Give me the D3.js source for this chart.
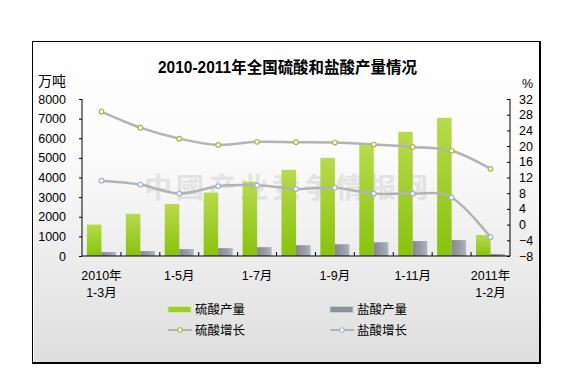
<!DOCTYPE html>
<html><head><meta charset="utf-8">
<script src="https://cdn.jsdelivr.net/npm/d3@7/dist/d3.min.js"></script>
<style>
html,body{margin:0;padding:0;background:#fff;}
svg{display:block;}
text{font-family:"Liberation Sans","Noto Sans CJK SC",sans-serif;fill:#000;}
</style></head>
<body>
<svg id="chart" width="573" height="380"></svg>
<script>
// ---- data ----
const categories = ["2010年1-3月","1-4月","1-5月","1-6月","1-7月","1-8月","1-9月","1-10月","1-11月","1-12月","2011年1-2月"];
const xTickLabels = [["2010年","1-3月"],null,["1-5月"],null,["1-7月"],null,["1-9月"],null,["1-11月"],null,["2011年","1-2月"]];
const sulfuricOutput = [1600, 2150, 2650, 3230, 3780, 4390, 5000, 5660, 6330, 7040, 1070];
const hydroOutput = [200, 250, 350, 400, 450, 550, 600, 700, 760, 810, 100];
const sulfuricGrowth = [28.8, 24.7, 21.9, 20.3, 21.1, 21.0, 20.9, 20.4, 19.8, 18.8, 14.2];
const hydroGrowth = [11.2, 10.2, 7.9, 9.8, 10.0, 9.1, 9.4, 7.9, 7.9, 6.9, -3.2];
const leftTicks = [0,1000,2000,3000,4000,5000,6000,7000,8000];
const rightTicks = [-8,-4,0,4,8,12,16,20,24,28,32];
const seriesNames = ["硫酸产量","盐酸产量","硫酸增长","盐酸增长"];
const title = "2010-2011年全国硫酸和盐酸产量情况";

(function(){
const svg = d3.select("#chart");
const defs = svg.append("defs");

const bg = defs.append("linearGradient").attr("id","bg").attr("x1",0).attr("y1",0).attr("x2",0).attr("y2",1);
bg.append("stop").attr("offset","0%").attr("stop-color","#ffffff");
bg.append("stop").attr("offset","35%").attr("stop-color","#fbfbfb");
bg.append("stop").attr("offset","100%").attr("stop-color","#dedede");

const gG = defs.append("linearGradient").attr("id","gGreen").attr("x1",0).attr("y1",0).attr("x2",0).attr("y2",1);
gG.append("stop").attr("offset","0%").attr("stop-color","#b8da4c");
gG.append("stop").attr("offset","100%").attr("stop-color","#88c20e");

const gY = defs.append("linearGradient").attr("id","gGray").attr("x1",0).attr("y1",0).attr("x2",1).attr("y2",0);
gY.append("stop").attr("offset","0%").attr("stop-color","#86888c");
gY.append("stop").attr("offset","60%").attr("stop-color","#9a9ea4");
gY.append("stop").attr("offset","100%").attr("stop-color","#aab6c4");

// frame
svg.append("rect").attr("x",34).attr("y",42).attr("width",506).attr("height",321)
  .attr("fill","url(#bg)");
svg.append("path").attr("d","M32.5,363 V41.5 H540").attr("fill","none").attr("stroke","#000").attr("stroke-width",1);
svg.append("path").attr("d","M540,41 V363 H32").attr("fill","none").attr("stroke","#000").attr("stroke-width",2);

// title
svg.append("text").attr("x",287.5).attr("y",73).attr("text-anchor","middle")
  .attr("textLength",259).attr("lengthAdjust","spacingAndGlyphs")
  .style("font-size","16px").style("font-weight","bold").text(title);

const pL = 82, pR = 510, pT = 99, pB = 256;

const x0 = d3.scaleBand().domain(categories).range([pL,pR]).paddingInner(0).paddingOuter(0);
const x1 = d3.scaleBand().domain([0,1]).range([0,x0.bandwidth()]).paddingInner(0).paddingOuter(0.34);
const yL = d3.scaleLinear().domain([0,8000]).range([pB,pT]);
const yR = d3.scaleLinear().domain([-8,32]).range([pB,pT]);

// watermark
svg.append("text").attr("x",288).attr("y",198).attr("text-anchor","middle")
  .style("font-family","'Noto Sans CJK SC'").style("font-size","28px").style("font-weight","bold")
  .style("letter-spacing","4px").style("fill","#d0d0d0").style("opacity",0.5)
  .text("中國产业竞争情报网");

// bars
const gBars = svg.append("g");
gBars.selectAll(".bs").data(sulfuricOutput).join("rect")
  .attr("x",(d,i)=>x0(categories[i])+x1(0)).attr("width",x1.bandwidth())
  .attr("y",d=>yL(d)).attr("height",d=>pB-yL(d)).attr("fill","url(#gGreen)");
gBars.selectAll(".bh").data(hydroOutput).join("rect")
  .attr("x",(d,i)=>x0(categories[i])+x1(1)).attr("width",x1.bandwidth())
  .attr("y",d=>yL(d)).attr("height",d=>pB-yL(d)).attr("fill","url(#gGray)");

// lines
const cx = i => x0(categories[i]) + x0.bandwidth()/2;
const line = d3.line().x((d,i)=>cx(i)).y(d=>yR(d)).curve(d3.curveCardinal.tension(0));
function drawLine(data, mk){
  svg.append("path").attr("d",line(data)).attr("fill","none").attr("stroke","#b3b3b3").attr("stroke-width",2.5);
  svg.append("g").selectAll("circle").data(data).join("circle")
    .attr("cx",(d,i)=>cx(i)).attr("cy",d=>yR(d)).attr("r",2.3)
    .attr("fill","#fff").attr("stroke",mk).attr("stroke-width",1.2);
}
drawLine(sulfuricGrowth, "#aab83a");
drawLine(hydroGrowth, "#9fb6d6");

// axes
const axL = svg.append("g").attr("transform",`translate(${pL},0)`)
  .call(d3.axisLeft(yL).tickValues(leftTicks).tickSize(3).tickPadding(13).tickFormat(d3.format("d")));
const axR = svg.append("g").attr("transform",`translate(${pR},0)`)
  .call(d3.axisRight(yR).tickValues(rightTicks).tickSize(-3).tickPadding(9).tickFormat(d3.format("d")));
const axB = svg.append("g").attr("transform",`translate(0,${pB})`)
  .call(d3.axisBottom(x0).tickValues([]).tickSizeOuter(0));
const bounds = d3.range(1, categories.length).map(i => x0(categories[i]));
axB.selectAll(".bt").data(bounds).join("line")
  .attr("x1",d=>d).attr("x2",d=>d).attr("y1",0).attr("y2",-4).attr("stroke","#000");
[axL,axR,axB].forEach(a=>{
  a.selectAll(".domain").attr("stroke","#000");
  a.selectAll(".tick line").attr("stroke","#000");
  a.selectAll("text").style("font-size","12.5px").style("font-family","'Liberation Sans',sans-serif").attr("fill","#000");
});
axL.select(".domain").attr("d",`M0,${pT}V${pB}`);
axR.select(".domain").attr("d",`M0,${pT}V${pB}`);
axB.select(".domain").attr("d",`M${pL},0H${pR}`);

// x labels
const xl = svg.append("g");
xTickLabels.forEach((lab,i)=>{
  if(!lab) return;
  const t = xl.append("text").attr("text-anchor","middle").style("font-size","12.5px");
  lab.forEach((s,j)=>t.append("tspan").attr("x",cx(i)).attr("y",280+j*17).text(s));
});

// unit labels
svg.append("text").attr("x",38).attr("y",86).style("font-size","14px").text("万吨");
svg.append("text").attr("x",522).attr("y",88).style("font-size","12.5px").text("%");

// legend
const lg = svg.append("g").style("font-size","12.5px");
const lx = [168, 330];
lg.append("rect").attr("x",lx[0]).attr("y",306.5).attr("width",23).attr("height",6)
  .attr("fill","#9ccc2a").attr("stroke","#d4ec90").attr("stroke-width",1);
lg.append("text").attr("x",lx[0]+27).attr("y",314).text(seriesNames[0]);
lg.append("rect").attr("x",lx[1]).attr("y",306.5).attr("width",23).attr("height",6)
  .attr("fill","#8e9096").attr("stroke","#c2cede").attr("stroke-width",1);
lg.append("text").attr("x",lx[1]+27).attr("y",314).text(seriesNames[1]);
[[0,"#aab83a"],[1,"#9fb6d6"]].forEach(([k,c])=>{
  lg.append("line").attr("x1",lx[k]).attr("x2",lx[k]+24).attr("y1",330).attr("y2",330)
    .attr("stroke","#b3b3b3").attr("stroke-width",2);
  lg.append("circle").attr("cx",lx[k]+12).attr("cy",330).attr("r",2.2).attr("fill","#fff").attr("stroke",c).attr("stroke-width",1.1);
  lg.append("text").attr("x",lx[k]+27).attr("y",335).text(seriesNames[2+k]);
});
})();
</script>
</body></html>
